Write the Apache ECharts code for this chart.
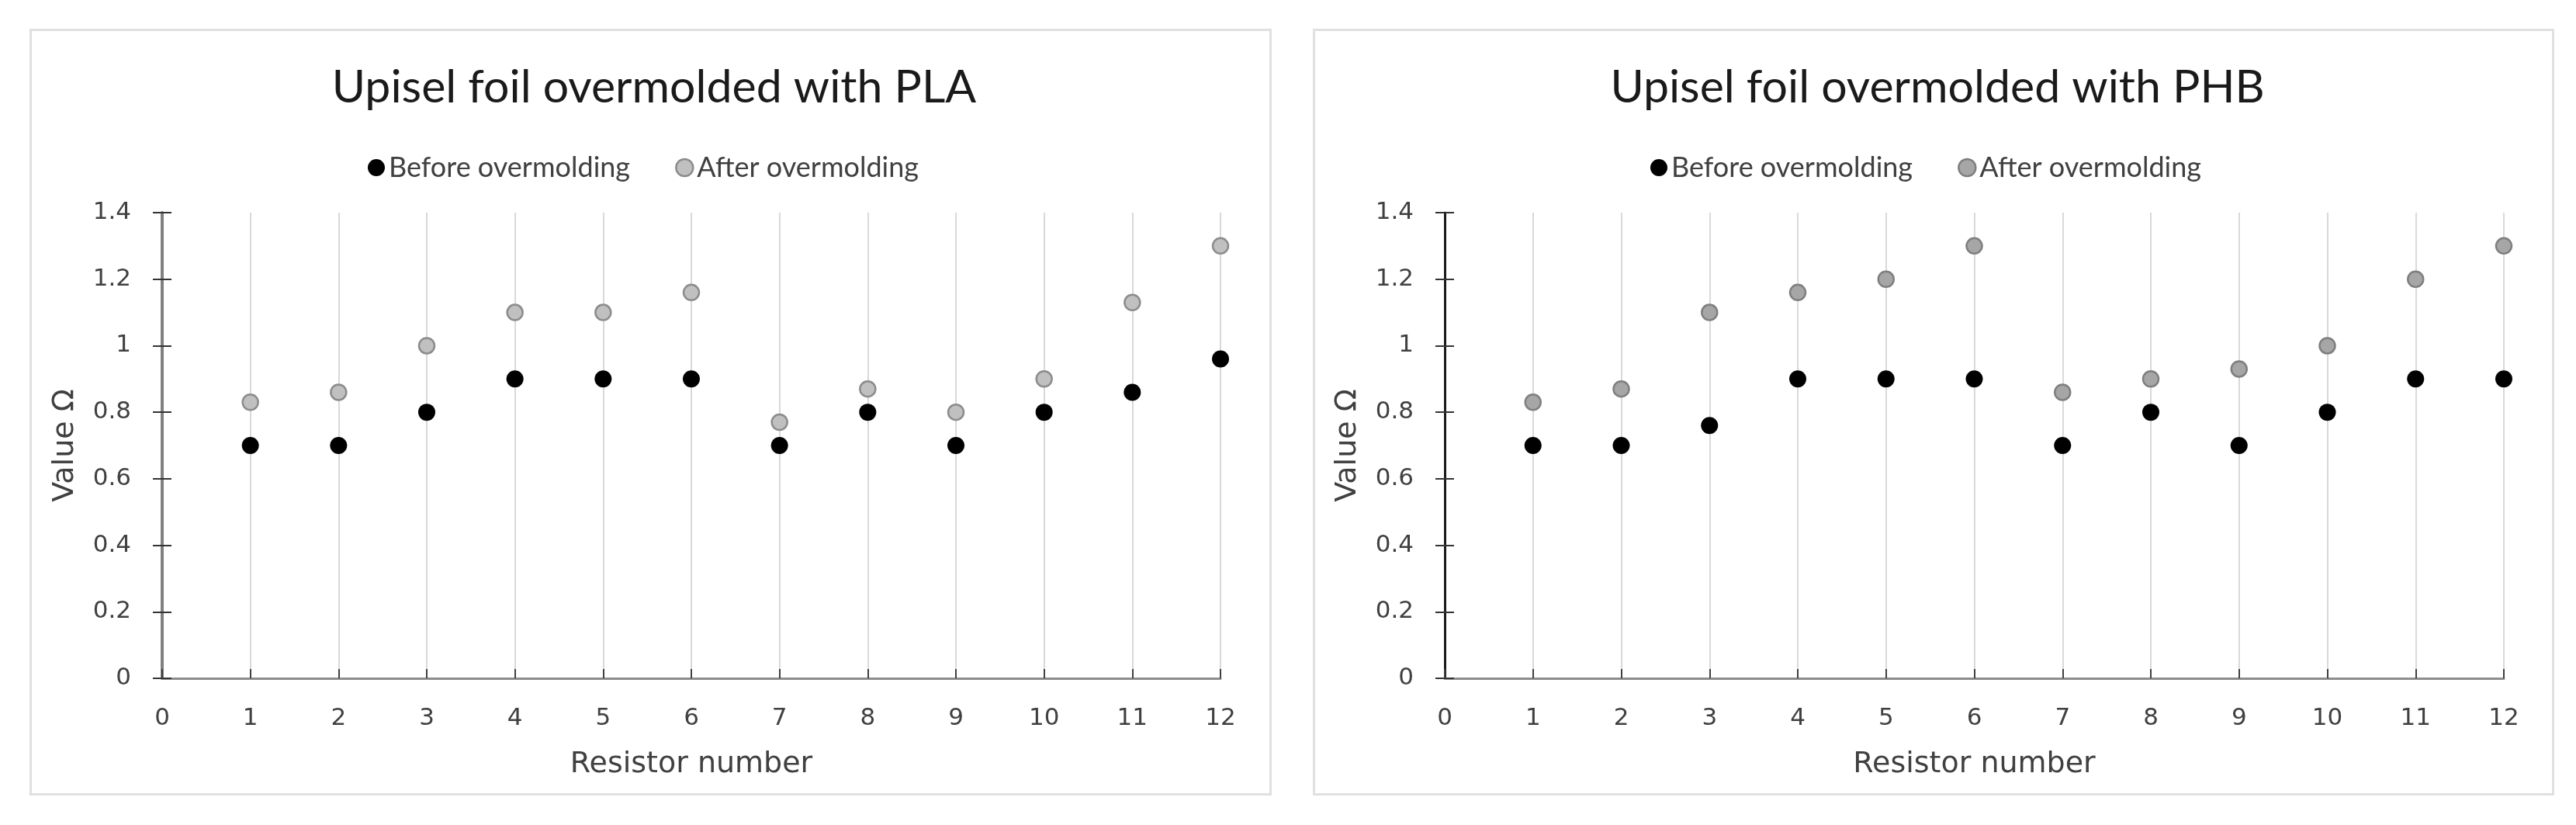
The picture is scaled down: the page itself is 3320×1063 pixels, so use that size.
<!DOCTYPE html>
<html>
<head>
<meta charset="utf-8">
<script src="https://cdn.jsdelivr.net/npm/echarts@6/dist/echarts.min.js"></script>
<style>
html,body{margin:0;padding:0;background:#fff;}
#chart{width:3320px;height:1063px;}
</style>
</head>
<body>
<div id="chart"></div>
<script>
// ---- data ----
var resistors = [1, 2, 3, 4, 5, 6, 7, 8, 9, 10, 11, 12];
var plaBefore = [0.70, 0.70, 0.80, 0.90, 0.90, 0.90, 0.70, 0.80, 0.70, 0.80, 0.86, 0.96];
var plaAfter  = [0.83, 0.86, 1.00, 1.10, 1.10, 1.16, 0.77, 0.87, 0.80, 0.90, 1.13, 1.30];
var phbBefore = [0.70, 0.70, 0.76, 0.90, 0.90, 0.90, 0.70, 0.80, 0.70, 0.80, 0.90, 0.90];
var phbAfter  = [0.83, 0.87, 1.10, 1.16, 1.20, 1.30, 0.86, 0.90, 0.93, 1.00, 1.20, 1.30];
var titles = ['Upisel foil overmolded with PLA', 'Upisel foil overmolded with PHB'];
var seriesNames = ['Before overmolding', 'After overmolding'];
var xTitle = 'Resistor number';
var yTitle = 'Value \u03A9';

function pairs(vals) { return resistors.map(function (r, i) { return [r, vals[i]]; }); }

var TICK_FONT = '"DejaVu Sans", sans-serif';
var TITLE_FONT = 'Lato, "Open Sans", sans-serif';

var panels = [
  { gridLeft: 209, gridWidth: 1364, titleX: 838, legendLeft: 469, yAxisColor: '#808080', yAxisWidth: 4,
    afterFill: '#c0c0c0', afterBorder: '#8c8c8c', before: plaBefore, after: plaAfter },
  { gridLeft: 1862, gridWidth: 1365, titleX: 2492, legendLeft: 2122, yAxisColor: '#1a1a1a', yAxisWidth: 3,
    afterFill: '#a6a6a6', afterBorder: '#7f7f7f', before: phbBefore, after: phbAfter }
];

var grids = [], xAxes = [], yAxes = [], series = [], titleOpts = [], legends = [];
panels.forEach(function (p, k) {
  grids.push({ left: p.gridLeft, width: p.gridWidth, top: 274, height: 600, containLabel: false });
  xAxes.push({
    type: 'value', gridIndex: k, min: 0, max: 12, interval: 1,
    name: xTitle, nameLocation: 'middle', nameGap: 92,
    nameTextStyle: { fontFamily: TICK_FONT, fontSize: 38, color: '#404040' },
    axisLine: { show: true, onZero: false, lineStyle: { color: '#8c8c8c', width: 3 } },
    axisTick: { show: true, inside: true, length: 12, lineStyle: { color: '#404040', width: 2 } },
    axisLabel: { fontFamily: TICK_FONT, fontSize: 31, color: '#404040', margin: 36 },
    splitLine: { show: true, lineStyle: { color: '#d9d9d9', width: 2 } }
  });
  yAxes.push({
    type: 'value', gridIndex: k, min: 0, max: 1.4, interval: 0.2, position: 'left',
    name: yTitle, nameLocation: 'middle', nameGap: 106, nameRotate: 90,
    nameTextStyle: { fontFamily: TICK_FONT, fontSize: 38, color: '#404040' },
    axisLine: { show: true, onZero: false, lineStyle: { color: p.yAxisColor, width: p.yAxisWidth } },
    axisTick: { show: true, inside: false, length: 12, lineStyle: { color: '#333333', width: 2 } },
    axisLabel: { fontFamily: TICK_FONT, fontSize: 31, color: '#404040', margin: 40 },
    splitLine: { show: false }
  });
  // companion axis for the inner half of the cross ticks
  yAxes.push({
    type: 'value', gridIndex: k, min: 0, max: 1.4, interval: 0.2, position: 'left',
    axisLine: { show: false },
    axisTick: { show: true, inside: true, length: 12, lineStyle: { color: '#333333', width: 2 } },
    axisLabel: { show: false }, splitLine: { show: false }
  });
  series.push({
    name: seriesNames[0], type: 'scatter', xAxisIndex: k, yAxisIndex: 2 * k,
    symbol: 'circle', symbolSize: 22, z: 3,
    itemStyle: { color: '#000000', opacity: 1 },
    data: pairs(p.before)
  });
  series.push({
    name: seriesNames[1], type: 'scatter', xAxisIndex: k, yAxisIndex: 2 * k,
    symbol: 'circle', symbolSize: 20, z: 3,
    itemStyle: { color: p.afterFill, borderColor: p.afterBorder, borderWidth: 2.5, opacity: 1 },
    data: pairs(p.after)
  });
  titleOpts.push({
    text: titles[k], left: p.titleX, top: 108, textAlign: 'center', textVerticalAlign: 'middle',
    textStyle: { fontFamily: TITLE_FONT, fontSize: 59, fontWeight: 'normal', color: '#1a1a1a' }
  });
  legends.push({
    left: p.legendLeft, top: 193, orient: 'horizontal',
    itemWidth: 22, itemHeight: 22, itemGap: 58, selectedMode: false,
    icon: 'circle',
    textStyle: { fontFamily: TITLE_FONT, fontSize: 36, color: '#404040' },
    data: [
      { name: seriesNames[0], itemStyle: { color: '#000000' } },
      { name: seriesNames[1], itemStyle: { color: p.afterFill, borderColor: p.afterBorder, borderWidth: 2.5 } }
    ]
  });
});

var chart = echarts.init(document.getElementById('chart'), null, { renderer: 'canvas' });
chart.setOption({
  backgroundColor: '#ffffff',
  animation: false,
  graphic: [
    { type: 'rect', z: -10, silent: true, shape: { x: 39.5, y: 38.5, width: 1598, height: 985 },
      style: { fill: '#ffffff', stroke: '#e0e0e0', lineWidth: 3 } },
    { type: 'rect', z: -10, silent: true, shape: { x: 1693.5, y: 38.5, width: 1597, height: 985 },
      style: { fill: '#ffffff', stroke: '#e0e0e0', lineWidth: 3 } }
  ],
  title: titleOpts,
  legend: legends,
  grid: grids,
  xAxis: xAxes,
  yAxis: yAxes,
  series: series
});
</script>
</body>
</html>
